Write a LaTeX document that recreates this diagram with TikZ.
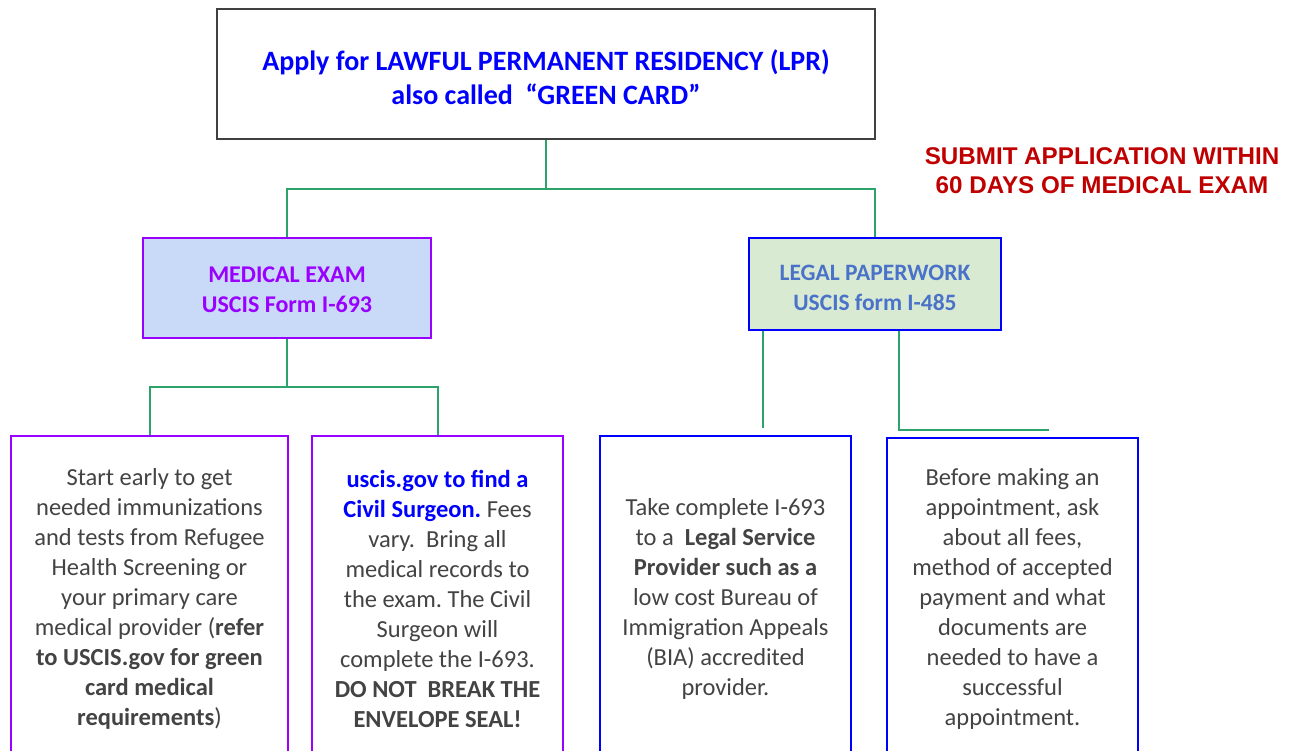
\documentclass[tikz,border=0pt]{standalone}
\usepackage{fontspec}
\setmainfont{Carlito}
\newfontfamily\arialfont{Liberation Sans}
\frenchspacing
\definecolor{conn}{HTML}{2BA36B}
\definecolor{purp}{HTML}{9900FF}
\definecolor{pblue}{HTML}{0000FF}
\definecolor{legtxt}{HTML}{4A72C8}
\definecolor{medfill}{HTML}{C9DAF8}
\definecolor{legfill}{HTML}{D9EAD3}
\definecolor{bodytxt}{HTML}{434343}
\definecolor{redtxt}{HTML}{C00000}
\definecolor{topborder}{HTML}{404040}
\tikzset{
  conline/.style={draw=conn, line width=2pt},
  box/.style={draw, line width=2pt, inner sep=0pt, rectangle, align=center},
  bodybox/.style={box, minimum width=251pt, fill=white, text=bodytxt,
     font=\fontsize{24.5}{30}\selectfont},
}
\begin{document}
\begin{tikzpicture}[x=1pt,y=-1pt]
\useasboundingbox (0,0) rectangle (1293,751);
\clip (0,0) rectangle (1293,751);
\fill[white] (0,0) rectangle (1293,751);

% top box
\node[box, draw=topborder, minimum width=658pt, minimum height=130pt] (top) at (546,74) {};
\node[align=center, text=pblue, font=\fontsize{28}{34}\selectfont\bfseries]
  (toptext) at (546,77) {Apply for LAWFUL PERMANENT RESIDENCY (LPR)\\also called\ \ ``GREEN CARD''};

% red note
\node[align=center, text=redtxt, font=\arialfont\fontsize{24.2}{29}\selectfont\bfseries]
  (note) at (1102,171) {SUBMIT APPLICATION WITHIN\\60 DAYS OF MEDICAL EXAM};

% second level
\node[box, draw=purp, fill=medfill, minimum width=288pt, minimum height=100pt] (med) at (287,288) {};
\node[align=center, text=purp, font=\fontsize{24}{30}\selectfont\bfseries]
  (medtext) at (287,289.5) {MEDICAL EXAM\\USCIS Form I-693};
\node[box, draw=pblue, fill=legfill, minimum width=252pt, minimum height=92pt] (leg) at (875,284) {};
\node[align=center, text=legtxt, font=\fontsize{23.5}{30}\selectfont\bfseries]
  (legtext) at (875,287.5) {LEGAL PAPERWORK\\USCIS form I-485};

% bottom boxes
\node[box, draw=purp, fill=white, minimum width=277pt, minimum height=322pt] (b1) at (149.5,597) {};
\node[box, draw=purp, fill=white, minimum width=251pt, minimum height=322pt] (b2) at (437.5,597) {};
\node[box, draw=pblue, fill=white, minimum width=251pt, minimum height=322pt] (b3) at (725.5,597) {};
\node[box, draw=pblue, fill=white, minimum width=251pt, minimum height=318pt] (b4) at (1012.5,597) {};

\tikzset{bodytext/.style={align=center, text=bodytxt, inner sep=0pt, font=\fontsize{24.5}{30}\selectfont}}
\node[bodytext] (t1) at (149.5,599)
 {Start early to get\\needed immunizations\\and tests from Refugee\\Health Screening or\\your primary care\\medical provider (\textbf{refer}\\\textbf{to USCIS.gov for green}\\\textbf{card medical}\\\textbf{requirements})};
\node[bodytext] (t2) at (437.5,599)
 {\textcolor{pblue}{\textbf{uscis.gov to find a}}\\\textcolor{pblue}{\textbf{Civil Surgeon.}} Fees\\vary.\ \ Bring all\\medical records to\\the exam. The Civil\\Surgeon will\\complete the I-693.\\\textbf{DO NOT\ \ BREAK THE}\\\textbf{ENVELOPE SEAL!}};
\node[bodytext] (t3) at (725.5,599)
 {Take complete I-693\\to a\ \ \textbf{Legal Service}\\\textbf{Provider such as a}\\low cost Bureau of\\Immigration Appeals\\(BIA) accredited\\provider.};
\node[bodytext] (t4) at (1012.5,599)
 {Before making an\\appointment, ask\\about all fees,\\method of accepted\\payment and what\\documents are\\needed to have a\\successful\\appointment.};

% connectors
\coordinate (j1) at (546,189);
\draw[conline] (top.south) -- (j1);
\draw[conline] (med.north) |- (j1) -| (leg.north);

\coordinate (j2) at (287,387);
\draw[conline] (med.south) -- (j2);
\draw[conline] (b1.north) |- (j2) -| (b2.north);

\coordinate (c1) at (763,428);
\draw[conline] (leg.south -| c1) -- (c1);
\coordinate (c2x) at (899,430);
\coordinate (c2) at (1049,430);
\draw[conline] (leg.south -| c2x) |- (c2);
\end{tikzpicture}
\end{document}
